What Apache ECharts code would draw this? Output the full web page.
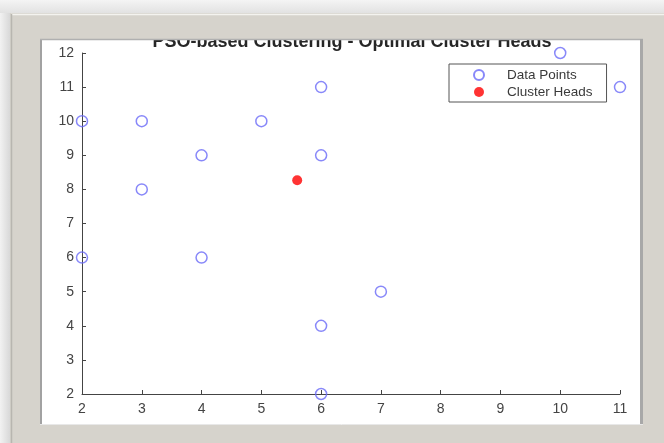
<!DOCTYPE html>
<html>
<head>
<meta charset="utf-8">
<script src="https://cdn.jsdelivr.net/npm/echarts@6/dist/echarts.min.js"></script>
<style>html,body{margin:0;padding:0;background:#fff}#c{width:664px;height:443px}</style>
</head>
<body>
<div id="c"></div>
<script>
var titleText = 'PSO-based Clustering - Optimal Cluster Heads';
var dataX = [2, 3, 5, 6, 10, 11, 4, 6, 3, 2, 4, 7, 6, 6];
var dataY = [10, 10, 10, 11, 12, 11, 9, 9, 8, 6, 6, 5, 4, 2];
var headX = [5.6];
var headY = [8.27];
var seriesNames = ['Data Points', 'Cluster Heads'];

var pts = dataX.map(function (x, i) { return [x, dataY[i]]; });
var heads = headX.map(function (x, i) { return [x, headY[i]]; });

var FR = '#d6d3cc';
var chart = echarts.init(document.getElementById('c'));
chart.setOption({
  backgroundColor: '#ffffff',
  animation: false,
  title: {
    text: titleText,
    left: 347, top: 28, textAlign: 'center',
    textStyle: { fontFamily: 'Liberation Sans', fontWeight: 'bold', fontSize: 18, color: '#262626' }
  },
  grid: { left: 82, right: 44, top: 53, bottom: 49, outerBoundsMode: 'none', containLabel: false },
  xAxis: {
    type: 'value', min: 2, max: 11, interval: 1,
    name: 'X', nameLocation: 'middle', nameGap: 33,
    nameTextStyle: { fontFamily: 'Liberation Sans', fontSize: 15, color: '#333' },
    axisLine: { onZero: false, lineStyle: { color: '#444', width: 1 } },
    axisTick: { inside: true, length: 4, lineStyle: { color: '#444' } },
    axisLabel: { margin: 8, fontFamily: 'Liberation Sans', fontSize: 14, color: '#444' },
    splitLine: { show: false }
  },
  yAxis: {
    type: 'value', min: 2, max: 12, interval: 1,
    name: 'Y', nameLocation: 'middle', nameGap: 44, nameRotate: 90,
    nameTextStyle: { fontFamily: 'Liberation Sans', fontSize: 15, color: '#333' },
    axisLine: { onZero: false, lineStyle: { color: '#444', width: 1 } },
    axisTick: { inside: true, length: 4, lineStyle: { color: '#444' } },
    axisLabel: { margin: 8, fontFamily: 'Liberation Sans', fontSize: 14, color: '#444' },
    splitLine: { show: false }
  },
  legend: {
    left: 449, top: 64, orient: 'vertical',
    data: seriesNames,
    backgroundColor: '#fff',
    borderColor: '#555', borderWidth: 1,
    padding: [4, 14, 3, 24], itemGap: 3,
    itemWidth: 10, itemHeight: 10,
    textStyle: { fontFamily: 'Liberation Sans', fontSize: 13.5, color: '#3a3a3a', padding: [0, 0, 0, 18] }
  },
  series: [
    {
      name: seriesNames[0], type: 'scatter', data: pts, symbol: 'circle', symbolSize: 11,
      itemStyle: { color: 'rgba(0,0,0,0)', borderColor: '#6a6af8', borderWidth: 1.5 },
      clip: false, z: 3
    },
    {
      name: seriesNames[1], type: 'scatter', data: heads, symbol: 'circle', symbolSize: 10,
      itemStyle: { color: '#ff0000' }, clip: false, z: 4
    }
  ],
  graphic: [
    { type: 'rect', z: 100, shape: { x: 0, y: 0, width: 664, height: 13 }, style: { fill: new echarts.graphic.LinearGradient(0, 0, 0, 1, [{ offset: 0, color: '#f4f4f4' }, { offset: 1, color: '#e2e2e2' }]) } },
    { type: 'rect', z: 100, shape: { x: 0, y: 13, width: 10, height: 430 }, style: { fill: new echarts.graphic.LinearGradient(0, 0, 1, 0, [{ offset: 0, color: '#f2f2f2' }, { offset: 1, color: '#d8d8d8' }]) } },
    { type: 'rect', z: 100, shape: { x: 10, y: 13, width: 654, height: 26 }, style: { fill: FR } },
    { type: 'rect', z: 100, shape: { x: 10, y: 13, width: 30, height: 430 }, style: { fill: FR } },
    { type: 'rect', z: 100, shape: { x: 643, y: 13, width: 21, height: 430 }, style: { fill: FR } },
    { type: 'rect', z: 100, shape: { x: 10, y: 425, width: 654, height: 18 }, style: { fill: FR } },
    { type: 'line', z: 101, shape: { x1: 11, y1: 14.5, x2: 664, y2: 14.5 }, style: { stroke: '#f4f3ef', lineWidth: 1.5 } },
    { type: 'line', z: 101, shape: { x1: 11.5, y1: 14, x2: 11.5, y2: 443 }, style: { stroke: '#b8b6b0', lineWidth: 1.5 } },
    { type: 'line', z: 101, shape: { x1: 41, y1: 39, x2: 41, y2: 425 }, style: { stroke: '#a2a2a2', lineWidth: 2 } },
    { type: 'line', z: 101, shape: { x1: 40, y1: 39.5, x2: 643, y2: 39.5 }, style: { stroke: '#b0b0b0', lineWidth: 1.5 } },
    { type: 'line', z: 101, shape: { x1: 641.5, y1: 39, x2: 641.5, y2: 425 }, style: { stroke: '#a8a8a8', lineWidth: 3 } },
    { type: 'line', z: 101, shape: { x1: 40, y1: 424.5, x2: 643, y2: 424.5 }, style: { stroke: '#e8e8e8', lineWidth: 1 } }
  ]
});
</script>
</body>
</html>
